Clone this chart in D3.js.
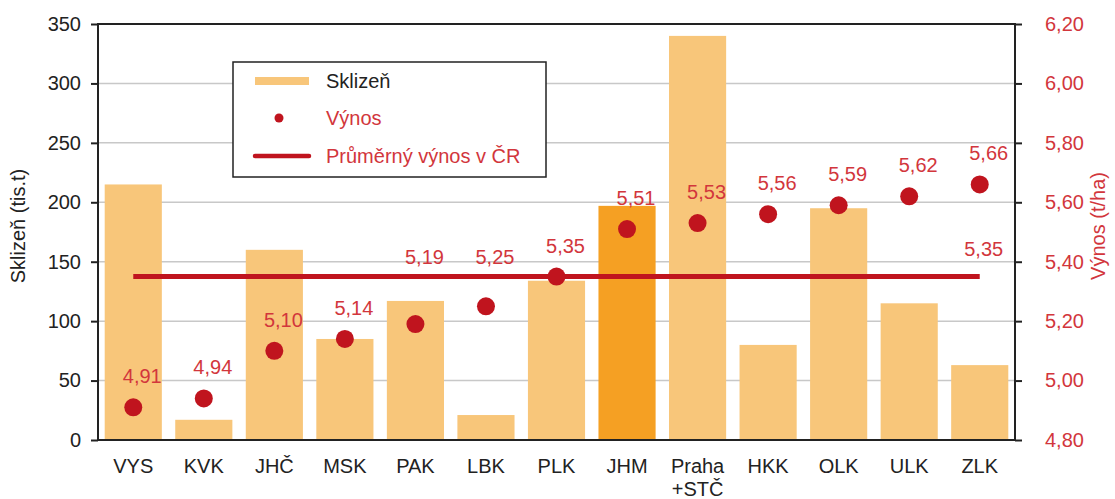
<!DOCTYPE html>
<html>
<head>
<meta charset="utf-8">
<script src="https://cdn.jsdelivr.net/npm/d3@7"></script>
<style>
    body { margin: 0; background: #fff; }
    text { font-family: 'Liberation Sans', Arial, sans-serif; }
</style>
</head>
<body>
<div id="chart"></div>
<script>
// kraje
const regions = ['VYS', 'KVK', 'JHČ', 'MSK', 'PAK', 'LBK', 'PLK', 'JHM', 'Praha\n+STČ', 'HKK', 'OLK', 'ULK', 'ZLK'];
// sklizeň (tis. t)
const harvest = [215, 17, 160, 85, 117, 21, 134, 197, 340, 80, 195, 115, 63];
// výnos (t/ha)
const yields = [4.91, 4.94, 5.10, 5.14, 5.19, 5.25, 5.35, 5.51, 5.53, 5.56, 5.59, 5.62, 5.66];
const avgYield = 5.35;
const highlight = 'JHM';

const leftTicks = [0, 50, 100, 150, 200, 250, 300, 350];
const rightTicks = [4.8, 5.0, 5.2, 5.4, 5.6, 5.8, 6.0, 6.2];

const width = 1115, height = 499;
const margin = {top: 24, right: 100, bottom: 59, left: 98};
const red = '#c0141e', labelRed = '#d2363c';
const fs = '20px';
const fmt = function(v) { return d3.format('.2f')(v).replace('.', ','); };

let svg = d3.select('#chart').append('svg')
    .attr('width', width)
    .attr('height', height);

let x = d3.scaleBand()
    .domain(regions)
    .range([margin.left, width - margin.right])
    .paddingInner(0.19)
    .paddingOuter(0.095);

let y = d3.scaleLinear().domain([0, 350]).range([height - margin.bottom, margin.top]);
let y2 = d3.scaleLinear().domain([4.8, 6.2]).range([height - margin.bottom, margin.top]);

let x0 = margin.left, x1 = width - margin.right;

// mřížka
svg.append('g')
    .selectAll('line')
    .data(leftTicks.filter(function(d) { return d > 0 && d < 350; }))
    .enter()
    .append('line')
    .attr('x1', x0).attr('x2', x1)
    .attr('y1', function(d) { return y(d); })
    .attr('y2', function(d) { return y(d); })
    .attr('stroke', '#c8c8c8')
    .attr('stroke-width', 1.5);

// sloupce
svg.append('g')
    .selectAll('rect')
    .data(harvest)
    .enter()
    .append('rect')
    .attr('x', function(d, i) { return x(regions[i]); })
    .attr('y', function(d) { return y(d); })
    .attr('width', x.bandwidth())
    .attr('height', function(d) { return y(0) - y(d); })
    .attr('fill', function(d, i) { return regions[i] === highlight ? '#f5a023' : '#f8c67a'; });

// osy
let leftAxis = svg.append('g')
    .attr('transform', 'translate(' + x0 + ',0)')
    .call(d3.axisLeft(y).tickValues(leftTicks).tickSize(7).tickPadding(10));
let rightAxis = svg.append('g')
    .attr('transform', 'translate(' + x1 + ',0)')
    .call(d3.axisRight(y2).tickValues(rightTicks).tickSize(7).tickPadding(23).tickFormat(fmt));
[leftAxis, rightAxis].forEach(function(a) {
    a.select('.domain').remove();
    a.selectAll('line').attr('stroke', '#222').attr('stroke-width', 2);
    a.selectAll('text').style('font-size', fs);
});
leftAxis.selectAll('text').attr('fill', '#222');
rightAxis.selectAll('text').attr('fill', labelRed);

// rámeček
svg.append('rect')
    .attr('x', x0).attr('y', y(350))
    .attr('width', x1 - x0).attr('height', y(0) - y(350))
    .attr('fill', 'none')
    .attr('stroke', '#222')
    .attr('stroke-width', 2);

// popisky kategorií
let cat = svg.append('g')
    .selectAll('text')
    .data(regions)
    .enter()
    .append('text')
    .attr('x', function(d) { return x(d) + x.bandwidth() / 2; })
    .attr('y', y(0) + 33)
    .attr('text-anchor', 'middle')
    .attr('fill', '#222')
    .style('font-size', fs);
cat.each(function(d) {
    let t = d3.select(this);
    d.split('\n').forEach(function(part, k) {
        t.append('tspan')
            .attr('x', t.attr('x'))
            .attr('dy', k === 0 ? 0 : 23)
            .text(part);
    });
});

// průměr
let avgY = y2(avgYield);
let xFirst = x(regions[0]) + x.bandwidth() / 2;
let xLast = x(regions[regions.length - 1]) + x.bandwidth() / 2;
svg.append('line')
    .attr('x1', xFirst).attr('x2', xLast)
    .attr('y1', avgY).attr('y2', avgY)
    .attr('stroke', red)
    .attr('stroke-width', 5);
svg.append('text')
    .attr('x', xLast + 4)
    .attr('y', avgY - 21)
    .attr('text-anchor', 'middle')
    .attr('fill', labelRed)
    .style('font-size', fs)
    .text(fmt(avgYield));

// body výnosu
svg.append('g')
    .selectAll('circle')
    .data(yields)
    .enter()
    .append('circle')
    .attr('cx', function(d, i) { return x(regions[i]) + x.bandwidth() / 2; })
    .attr('cy', function(d) { return y2(d); })
    .attr('r', 9)
    .attr('fill', red);

svg.append('g')
    .selectAll('text')
    .data(yields)
    .enter()
    .append('text')
    .attr('x', function(d, i) { return x(regions[i]) + x.bandwidth() / 2 + 9; })
    .attr('y', function(d) {
        let ly = y2(d) - 24;
        if (Math.abs(ly - 7 - avgY) < 20) ly = avgY - 13;
        return ly;
    })
    .attr('text-anchor', 'middle')
    .attr('fill', labelRed)
    .style('font-size', fs)
    .text(fmt);

// titulky os
svg.append('text')
    .attr('transform', 'translate(25,' + 226 + ') rotate(-90)')
    .attr('text-anchor', 'middle')
    .attr('fill', '#222')
    .style('font-size', fs)
    .text('Sklizeň (tis.t)');
svg.append('text')
    .attr('transform', 'translate(1105,' + 226 + ') rotate(-90)')
    .attr('text-anchor', 'middle')
    .attr('fill', labelRed)
    .style('font-size', fs)
    .text('Výnos (t/ha)');

// legenda
let legend = svg.append('g').attr('transform', 'translate(233,62)');
legend.append('rect')
    .attr('width', 313).attr('height', 115)
    .attr('fill', '#fff')
    .attr('stroke', '#222')
    .attr('stroke-width', 1.5);
legend.append('rect')
    .attr('x', 22).attr('y', 15).attr('width', 54).attr('height', 8)
    .attr('fill', '#f8c67a');
legend.append('circle')
    .attr('cx', 46).attr('cy', 56).attr('r', 4.5)
    .attr('fill', red);
legend.append('line')
    .attr('x1', 22).attr('x2', 76).attr('y1', 94).attr('y2', 94)
    .attr('stroke', red).attr('stroke-width', 4.5).attr('stroke-linecap', 'round');
[['Sklizeň', '#222', 19], ['Výnos', labelRed, 56], ['Průměrný výnos v ČR', labelRed, 94]].forEach(function(it) {
    legend.append('text')
        .attr('x', 93).attr('y', it[2])
        .attr('dy', '0.35em')
        .attr('fill', it[1])
        .style('font-size', fs)
        .text(it[0]);
});
</script>
</body>
</html>
